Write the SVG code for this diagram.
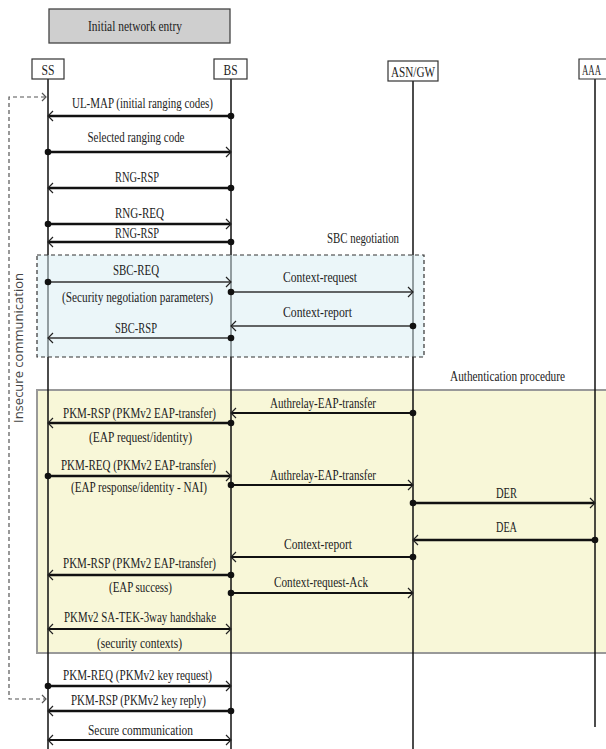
<svg xmlns="http://www.w3.org/2000/svg" width="606" height="749" viewBox="0 0 606 749">
<style>
.t{font-family:"Liberation Serif","Times New Roman",serif;font-size:15px;fill:#222;text-anchor:middle}
.ll{stroke:#111;stroke-width:1.5;fill:none}
.m{stroke:#111;fill:none;marker-end:url(#ah);marker-start:url(#dot)}
.w{stroke-width:2.5}
.n{stroke-width:1.3;stroke:#333}
.md{stroke-width:2}
.d{stroke:#111;fill:none;stroke-width:2;marker-end:url(#ah);marker-start:url(#ahs)}
.hb{fill:#fff;stroke:#333;stroke-width:1.2}
</style>
<defs>
<marker id="ah" markerUnits="userSpaceOnUse" viewBox="-8 -7 10 14" markerWidth="10" markerHeight="14" refX="0" refY="0" orient="auto" overflow="visible"><path d="M-5,-5 L0,0 L-5,5" fill="none" stroke="#222" stroke-width="1.2"/></marker>
<marker id="ahs" markerUnits="userSpaceOnUse" viewBox="-8 -7 10 14" markerWidth="10" markerHeight="14" refX="0" refY="0" orient="auto-start-reverse" overflow="visible"><path d="M-5,-5 L0,0 L-5,5" fill="none" stroke="#222" stroke-width="1.2"/></marker>
<marker id="dot" markerUnits="userSpaceOnUse" viewBox="-4 -4 8 8" markerWidth="8" markerHeight="8" refX="0" refY="0" orient="auto" overflow="visible"><circle r="3.3" fill="#111"/></marker>
</defs>
<rect width="606" height="749" fill="#fff"/>

<g id="auth-box">
<rect x="37" y="390" width="572" height="263" fill="#f8f7d8" stroke="#999" stroke-width="2"/>
<text class="t" x="507.5" y="381" textLength="115" lengthAdjust="spacingAndGlyphs">Authentication procedure</text>
</g>

<g id="header">
<rect x="49" y="9" width="181" height="34" fill="#cfcfcf" stroke="#444" stroke-width="1.3"/>
<text class="t" x="135" y="31" textLength="94" lengthAdjust="spacingAndGlyphs">Initial network entry</text>
</g>

<g id="SS">
<line class="ll" x1="48" y1="79" x2="48" y2="749"/>
<rect class="hb" x="32" y="59" width="32" height="20"/>
<text class="t" x="48" y="74.5" textLength="13" lengthAdjust="spacingAndGlyphs">SS</text>
</g>
<g id="BS">
<line class="ll" x1="231" y1="79" x2="231" y2="749"/>
<rect class="hb" x="214" y="59" width="33" height="20"/>
<text class="t" x="230.5" y="74.5" textLength="14" lengthAdjust="spacingAndGlyphs">BS</text>
</g>
<g id="ASNGW">
<line class="ll" x1="413" y1="81" x2="413" y2="749" stroke-width="2"/>
<rect class="hb" x="388" y="61" width="50" height="20"/>
<text class="t" x="413" y="76.5" textLength="44" lengthAdjust="spacingAndGlyphs">ASN/GW</text>
</g>
<g id="AAA">
<line class="ll" x1="595" y1="79" x2="595" y2="727" stroke="#555"/>
<path class="hb" d="M606,59 H579 V79 H606"/>
<text class="t" x="591.5" y="74.5" font-size="14" textLength="19" lengthAdjust="spacingAndGlyphs" style="font-size:14px">AAA</text>
</g>

<g id="sbc-box">
<rect x="37" y="255" width="387" height="102" fill="#d8edf3" fill-opacity="0.5" stroke="#333" stroke-width="1.2" stroke-dasharray="4,3"/>
<text class="t" x="363" y="243" textLength="72" lengthAdjust="spacingAndGlyphs">SBC negotiation</text>
</g>

<g id="insecure">
<path d="M45,97 H9 V699 H45" fill="none" stroke="#555" stroke-width="1.2" stroke-dasharray="4,3"/>
<path d="M42,93 L46,97 L42,101 M42,695 L46,699 L42,703" fill="none" stroke="#555" stroke-width="1.2"/>
<text x="18" y="348" transform="rotate(-90 18 348)" text-anchor="middle" dominant-baseline="central" font-family="'Open Sans','Noto Sans',sans-serif" font-size="13" fill="#444" textLength="150" lengthAdjust="spacingAndGlyphs">Insecure communication</text>
</g>

<g id="connectors">
<line class="m w" x1="231" y1="116" x2="48" y2="116"/>
<line class="m w" x1="48" y1="152" x2="231" y2="152"/>
<line class="m w" x1="231" y1="188" x2="48" y2="188"/>
<line class="m w" x1="48" y1="224" x2="231" y2="224"/>
<line class="m w" x1="231" y1="242" x2="48" y2="242"/>
<line class="m n" x1="48" y1="282" x2="231" y2="282"/>
<line class="m n" x1="231" y1="292" x2="413" y2="292"/>
<line class="m n" x1="413" y1="326" x2="231" y2="326"/>
<line class="m n" x1="231" y1="338" x2="48" y2="338"/>
<line class="m md" x1="413" y1="413" x2="231" y2="413"/>
<line class="m w" x1="231" y1="423" x2="48" y2="423"/>
<line class="m w" x1="48" y1="476" x2="231" y2="476"/>
<line class="m md" x1="231" y1="485" x2="413" y2="485"/>
<line class="m w" x1="413" y1="503" x2="595" y2="503"/>
<line class="m w" x1="595" y1="540" x2="413" y2="540"/>
<line class="m md" x1="413" y1="557" x2="231" y2="557"/>
<line class="m w" x1="231" y1="575" x2="48" y2="575"/>
<line class="m md" x1="231" y1="593" x2="413" y2="593"/>
<line class="d" x1="48" y1="629" x2="231" y2="629"/>
<line class="m w" x1="48" y1="686" x2="231" y2="686"/>
<line class="m w" x1="231" y1="711" x2="48" y2="711"/>
<line class="d" x1="48" y1="740" x2="231" y2="740"/>
</g>

<g id="labels">
<text class="t" x="142.5" y="108" textLength="141" lengthAdjust="spacingAndGlyphs">UL-MAP (initial ranging codes)</text>
<text class="t" x="136" y="142" textLength="97" lengthAdjust="spacingAndGlyphs">Selected ranging code</text>
<text class="t" x="137" y="182" textLength="44" lengthAdjust="spacingAndGlyphs">RNG-RSP</text>
<text class="t" x="139.5" y="218" textLength="49" lengthAdjust="spacingAndGlyphs">RNG-REQ</text>
<text class="t" x="137" y="238" textLength="44" lengthAdjust="spacingAndGlyphs">RNG-RSP</text>
<text class="t" x="136" y="275" textLength="46" lengthAdjust="spacingAndGlyphs">SBC-REQ</text>
<text class="t" x="137.5" y="302" textLength="151" lengthAdjust="spacingAndGlyphs">(Security negotiation parameters)</text>
<text class="t" x="320" y="282" textLength="74" lengthAdjust="spacingAndGlyphs">Context-request</text>
<text class="t" x="317.5" y="317" textLength="69" lengthAdjust="spacingAndGlyphs">Context-report</text>
<text class="t" x="136" y="333" textLength="42" lengthAdjust="spacingAndGlyphs">SBC-RSP</text>
<text class="t" x="323" y="408" textLength="106" lengthAdjust="spacingAndGlyphs">Authrelay-EAP-transfer</text>
<text class="t" x="139.5" y="418" textLength="153" lengthAdjust="spacingAndGlyphs">PKM-RSP (PKMv2 EAP-transfer)</text>
<text class="t" x="140.5" y="442" textLength="103" lengthAdjust="spacingAndGlyphs">(EAP request/identity)</text>
<text class="t" x="138.5" y="470" textLength="155" lengthAdjust="spacingAndGlyphs">PKM-REQ (PKMv2 EAP-transfer)</text>
<text class="t" x="323" y="480" textLength="106" lengthAdjust="spacingAndGlyphs">Authrelay-EAP-transfer</text>
<text class="t" x="139" y="492" textLength="136" lengthAdjust="spacingAndGlyphs">(EAP response/identity - NAI)</text>
<text class="t" x="506.5" y="498" textLength="21" lengthAdjust="spacingAndGlyphs">DER</text>
<text class="t" x="506.5" y="532" textLength="21" lengthAdjust="spacingAndGlyphs">DEA</text>
<text class="t" x="318" y="549" textLength="68" lengthAdjust="spacingAndGlyphs">Context-report</text>
<text class="t" x="139.5" y="568" textLength="153" lengthAdjust="spacingAndGlyphs">PKM-RSP (PKMv2 EAP-transfer)</text>
<text class="t" x="321" y="587" textLength="94" lengthAdjust="spacingAndGlyphs">Context-request-Ack</text>
<text class="t" x="140.5" y="592" textLength="63" lengthAdjust="spacingAndGlyphs">(EAP success)</text>
<text class="t" x="140" y="622" textLength="152" lengthAdjust="spacingAndGlyphs">PKMv2 SA-TEK-3way handshake</text>
<text class="t" x="139.5" y="648" textLength="85" lengthAdjust="spacingAndGlyphs">(security contexts)</text>
<text class="t" x="137.5" y="680" textLength="149" lengthAdjust="spacingAndGlyphs">PKM-REQ (PKMv2 key request)</text>
<text class="t" x="138.5" y="705" textLength="135" lengthAdjust="spacingAndGlyphs">PKM-RSP (PKMv2 key reply)</text>
<text class="t" x="140.5" y="735" textLength="105" lengthAdjust="spacingAndGlyphs">Secure communication</text>
</g>
</svg>
